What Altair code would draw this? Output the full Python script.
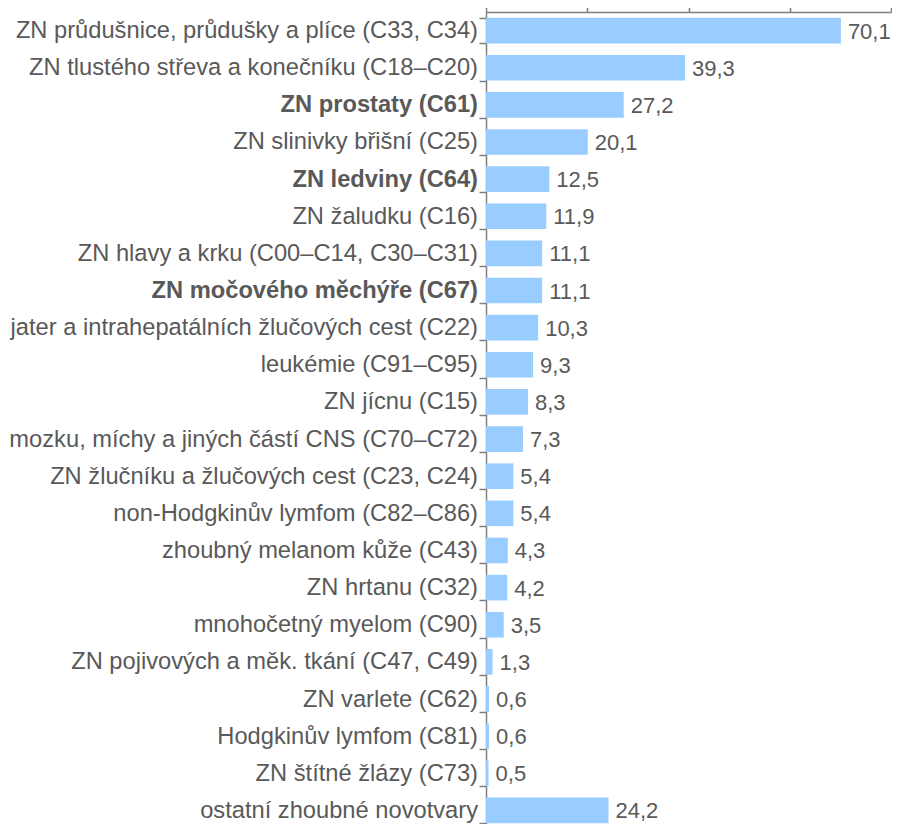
import altair as alt
import pandas as pd

categories = [
    "ZN průdušnice, průdušky a plíce (C33, C34)",
    "ZN tlustého střeva a konečníku (C18–C20)",
    "ZN prostaty (C61)",
    "ZN slinivky břišní (C25)",
    "ZN ledviny (C64)",
    "ZN žaludku (C16)",
    "ZN hlavy a krku (C00–C14, C30–C31)",
    "ZN močového měchýře (C67)",
    "jater a intrahepatálních žlučových cest (C22)",
    "leukémie (C91–C95)",
    "ZN jícnu (C15)",
    "mozku, míchy a jiných částí CNS (C70–C72)",
    "ZN žlučníku a žlučových cest (C23, C24)",
    "non-Hodgkinův lymfom (C82–C86)",
    "zhoubný melanom kůže (C43)",
    "ZN hrtanu (C32)",
    "mnohočetný myelom (C90)",
    "ZN pojivových a měk. tkání (C47, C49)",
    "ZN varlete (C62)",
    "Hodgkinův lymfom (C81)",
    "ZN štítné žlázy (C73)",
    "ostatní zhoubné novotvary",
]
values = [70.1, 39.3, 27.2, 20.1, 12.5, 11.9, 11.1, 11.1, 10.3, 9.3, 8.3,
          7.3, 5.4, 5.4, 4.3, 4.2, 3.5, 1.3, 0.6, 0.6, 0.5, 24.2]
bold_categories = ["ZN prostaty (C61)", "ZN ledviny (C64)", "ZN močového měchýře (C67)"]
x_ticks = [0, 20, 40, 60, 80]

df = pd.DataFrame({"cat": categories, "val": values})
df["label"] = [f"{v:.1f}".replace(".", ",") for v in values]

font = "Liberation Sans"
text_color = "#595959"
axis_color = "#7f7f7f"
bold_test = "indexof(" + str(bold_categories) + ", datum.value) >= 0"

y_enc = alt.Y(
    "cat:N", sort=categories, title=None,
    scale=alt.Scale(paddingInner=0.31, paddingOuter=0.155, range=[0, 817]),
    axis=alt.Axis(
        labelFontSize=23.7, labelFont=font, labelColor=text_color,
        labelLimit=0, labelPadding=1.5, tickBand="extent", tickSize=7,
        tickColor=axis_color, domainColor=axis_color, domainWidth=1.5,
        tickWidth=1.5,
        labelFontWeight={"condition": {"test": bold_test, "value": "bold"}, "value": "normal"},
    ),
)
x_enc = alt.X(
    "val:Q", title=None,
    scale=alt.Scale(domain=[0, 80], nice=False),
    axis=alt.Axis(orient="top", values=x_ticks, labels=False, tickSize=6,
                  tickColor=axis_color, domainColor=axis_color, domainWidth=1.5,
                  tickWidth=1.5, grid=False),
)

bars = alt.Chart(df).mark_bar(color="#99CCFF").encode(x=x_enc, y=y_enc)
text = alt.Chart(df).mark_text(
    align="left", baseline="middle", dx=7, dy=1, fontSize=22, font=font, color=text_color
).encode(x=alt.X("val:Q"), y=alt.Y("cat:N", sort=categories), text="label:N")

chart = (bars + text).properties(
    width=405, height=812,
    autosize=alt.AutoSizeParams(type="none"),
    padding={"left": 478, "top": 4, "right": 1, "bottom": 0},
).configure_view(stroke=None)

chart.save("out.html", embed_options={"renderer": "svg", "actions": False})
